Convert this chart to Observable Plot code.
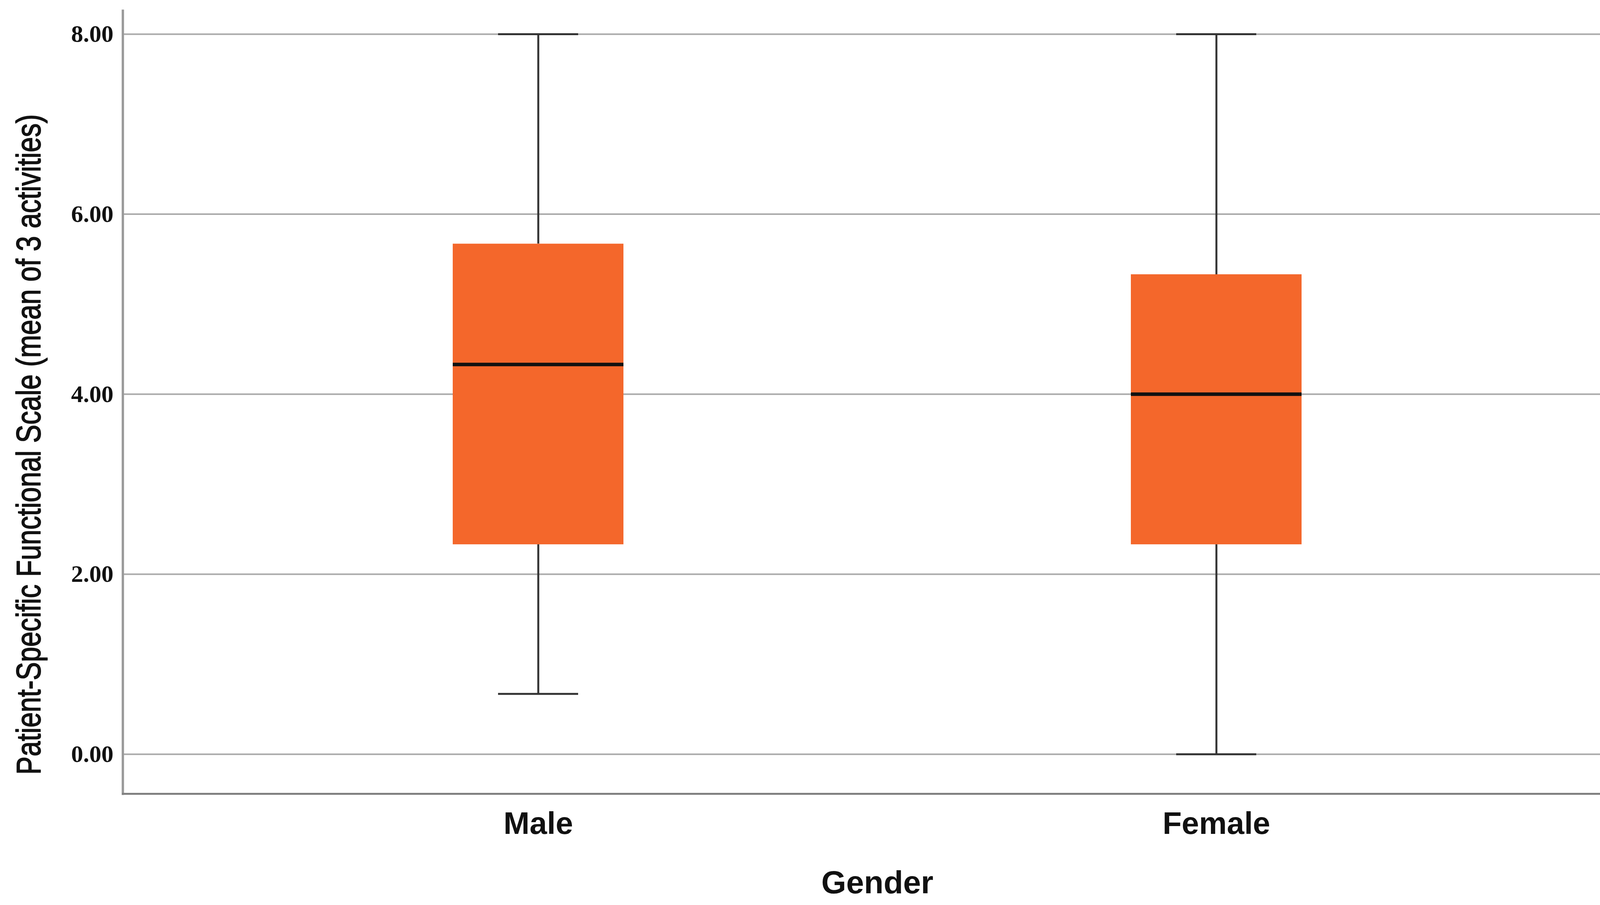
<!DOCTYPE html>
<html>
<head>
<meta charset="utf-8">
<script src="https://cdn.jsdelivr.net/npm/d3@7"></script>
<script src="https://cdn.jsdelivr.net/npm/@observablehq/plot@0.6"></script>
<style>
  html, body { margin: 0; padding: 0; background: #ffffff; overflow: hidden; }
  #chart { width: 4211px; height: 2316px; overflow: hidden; }
  #chart svg { display: block; max-width: none; }
</style>
</head>
<body>
<div id="chart"></div>
<script>
// ---- data ----
const groups = ["Male", "Female"];
const whiskerLow = [0.67, 0.0];
const q1 = [2.33, 2.33];
const median = [4.33, 4.0];
const q3 = [5.67, 5.33];
const whiskerHigh = [8.0, 8.0];
const yTicks = [0, 2, 4, 6, 8];
const yDomain = [-0.44, 8.26];
const xTitle = "Gender";
const yTitle = "Patient-Specific Functional Scale (mean of 3 activities)";

const rows = groups.map((g, i) => ({
  g, lo: whiskerLow[i], q1: q1[i], med: median[i], q3: q3[i], hi: whiskerHigh[i]
}));

const boxFill = "#f4672b";
const whiskerColor = "#333333";

// choose a condensed face for the y title if one is installed
const titleSize = 87;
const targetLen = 1690;
const ctx = document.createElement("canvas").getContext("2d");
ctx.font = `${titleSize}px 'Liberation Sans'`;
const wideW = ctx.measureText(yTitle).width;
ctx.font = `${titleSize}px 'Liberation Sans Narrow', 'Liberation Sans'`;
const narrowW = ctx.measureText(yTitle).width;
const hasNarrow = narrowW < wideW * 0.92;
const titleFont = hasNarrow ? "Liberation Sans Narrow" : "Liberation Sans";
const natW = hasNarrow ? narrowW : wideW;
const spacing = (targetLen - natW) / yTitle.length;

const chart = Plot.plot({
  width: 4211,
  height: 2316,
  marginTop: 27,
  marginBottom: 285,
  marginLeft: 314,
  marginRight: 34,
  style: { background: "#ffffff", overflow: "visible" },
  x: { type: "band", domain: groups, paddingInner: 0.748, paddingOuter: 0.486, align: 0.5 },
  y: { domain: yDomain },
  marks: [
    Plot.ruleY(yTicks, { stroke: "#aaaaaa", strokeWidth: 4 }),
    Plot.ruleX(rows, { x: "g", y1: "lo", y2: "q1", stroke: whiskerColor, strokeWidth: 5 }),
    Plot.ruleX(rows, { x: "g", y1: "q3", y2: "hi", stroke: whiskerColor, strokeWidth: 5 }),
    Plot.barY(rows, { x: "g", y1: "q1", y2: "q3", fill: boxFill }),
    Plot.tickY(rows, { x: "g", y: "med", stroke: "#111111", strokeWidth: 9 }),
    Plot.tickY(rows, { x: "g", y: "lo", stroke: whiskerColor, strokeWidth: 5, insetLeft: 116, insetRight: 116 }),
    Plot.tickY(rows, { x: "g", y: "hi", stroke: whiskerColor, strokeWidth: 5, insetLeft: 116, insetRight: 116 }),
    Plot.frame({ anchor: "left", stroke: "#999999", strokeWidth: 6 }),
    Plot.frame({ anchor: "bottom", stroke: "#808080", strokeWidth: 5 }),
    Plot.axisY(yTicks, {
      tickSize: 0, tickPadding: 24, tickFormat: d3.format(".2f"),
      fontFamily: "Liberation Serif, DejaVu Serif, serif", fontWeight: "bold", fontSize: 62,
      fill: "#111111", label: null
    }),
    Plot.axisX({
      tickSize: 0, tickPadding: 46,
      fontFamily: "Liberation Sans, Arial, sans-serif", fontWeight: "bold", fontSize: 80,
      fill: "#111111", label: null
    }),
    Plot.text([xTitle], {
      text: d => d, frameAnchor: "bottom", dy: 254, lineAnchor: "bottom",
      fontFamily: "Liberation Sans, Arial, sans-serif", fontWeight: "bold", fontSize: 82,
      fill: "#111111"
    }),
    Plot.text([yTitle], {
      text: d => d, frameAnchor: "left", dx: -212, dy: 108, rotate: -90, lineAnchor: "bottom",
      textAnchor: "middle",
      fontFamily: titleFont, fontSize: titleSize,
      fill: "#111111", stroke: "#111111", strokeWidth: 2
    })
  ]
});

document.getElementById("chart").appendChild(chart);

const titleSel = d3.select(chart).selectAll("text")
  .filter(function () { return this.textContent === yTitle; });
if (hasNarrow && spacing > -8) {
  // condensed face available: tighten the tracking to the reference length
  titleSel.style("letter-spacing", `${spacing}px`);
} else {
  titleSel.attr("textLength", targetLen).attr("lengthAdjust", "spacingAndGlyphs");
}
</script>
</body>
</html>
